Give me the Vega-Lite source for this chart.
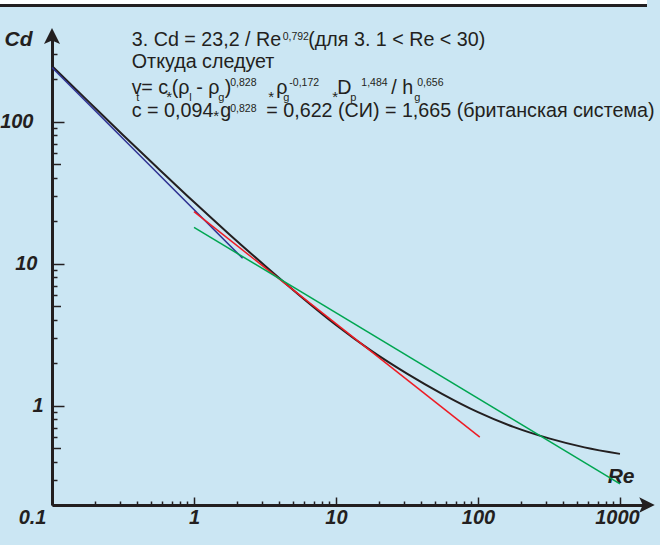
{
  "$schema": "https://vega.github.io/schema/vega-lite/v6.json",
  "width": 595,
  "height": 469,
  "autosize": {"type": "none"},
  "padding": {"left": 52, "top": 36, "right": 13, "bottom": 40},
  "background": "#cbe6f3",
  "config": {"view": {"stroke": null}},
  "datasets": {
    "furniture": [
      {"kind": "paper", "re": 0.042, "re2": 1550, "cd": 716, "cd2": 672},
      {"kind": "border", "re": 0.042, "re2": 1550, "cd": 672, "cd2": 640},
      {"kind": "up", "re": 0.1, "cd": 400},
      {"kind": "right", "re": 1550, "cd": 0.2}
    ],
    "curves": [
      {"series": "black", "re": 0.1, "cd": 246},
      {"series": "black", "re": 0.178, "cd": 140.4},
      {"series": "black", "re": 0.316, "cd": 80.5},
      {"series": "black", "re": 0.562, "cd": 46.6},
      {"series": "black", "re": 1, "cd": 27.1},
      {"series": "black", "re": 1.778, "cd": 16.05},
      {"series": "black", "re": 3.162, "cd": 9.66},
      {"series": "black", "re": 5.623, "cd": 5.9},
      {"series": "black", "re": 10, "cd": 3.7},
      {"series": "black", "re": 17.78, "cd": 2.432},
      {"series": "black", "re": 31.62, "cd": 1.683},
      {"series": "black", "re": 56.23, "cd": 1.208},
      {"series": "black", "re": 100, "cd": 0.901},
      {"series": "black", "re": 177.8, "cd": 0.709},
      {"series": "black", "re": 316.2, "cd": 0.5885},
      {"series": "black", "re": 562.3, "cd": 0.509},
      {"series": "black", "re": 1000, "cd": 0.458},
      {"series": "blue", "re": 0.1, "cd": 240},
      {"series": "blue", "re": 2.2, "cd": 10.9},
      {"series": "red", "re": 1, "cd": 23.2},
      {"series": "red", "re": 103, "cd": 0.6},
      {"series": "green", "re": 1, "cd": 18.0},
      {"series": "green", "re": 1000, "cd": 0.282}
    ],
    "notes": [
      {"t": "3. Cd = 23,2 / Re", "role": "main", "re": 0.3648, "cd": 341.4},
      {"t": "0,792", "role": "sup", "re": 4.21, "cd": 376.3},
      {"t": "(для 3. 1 < Re < 30)", "role": "main", "re": 6.381, "cd": 341.4},
      {"t": "Откуда следует", "role": "main", "re": 0.3648, "cd": 237.7},
      {"t": "v", "role": "main", "re": 0.3648, "cd": 156.0},
      {"t": "t", "role": "sub", "re": 0.3924, "cd": 138.8},
      {"t": "= c", "role": "main", "re": 0.4255, "cd": 156.0},
      {"t": "*", "role": "star", "re": 0.6381, "cd": 137.6},
      {"t": "(ρ", "role": "main", "re": 0.6978, "cd": 156.0},
      {"t": "l", "role": "sub", "re": 0.9267, "cd": 138.8},
      {"t": "- ρ", "role": "main", "re": 1.038, "cd": 156.0},
      {"t": "g", "role": "sub", "re": 1.483, "cd": 138.8},
      {"t": ")", "role": "main", "re": 1.648, "cd": 156.0},
      {"t": "0,828", "role": "sup", "re": 1.801, "cd": 178.4},
      {"t": "*", "role": "star", "re": 3.337, "cd": 137.6},
      {"t": "ρ", "role": "main", "re": 3.798, "cd": 156.0},
      {"t": "g", "role": "sub", "re": 4.256, "cd": 138.8},
      {"t": "-0,172", "role": "sup", "re": 4.69, "cd": 178.4},
      {"t": "*", "role": "star", "re": 9.419, "cd": 137.6},
      {"t": "D", "role": "main", "re": 10.21, "cd": 156.0},
      {"t": "p", "role": "sub", "re": 12.61, "cd": 138.8},
      {"t": "1,484", "role": "sup", "re": 15.08, "cd": 178.4},
      {"t": "/ h", "role": "main", "re": 24.51, "cd": 156.0},
      {"t": "g", "role": "sub", "re": 35.59, "cd": 138.8},
      {"t": "0,656", "role": "sup", "re": 37.36, "cd": 178.4},
      {"t": "c = 0,094", "role": "main", "re": 0.3648, "cd": 107.4},
      {"t": "*", "role": "star", "re": 1.367, "cd": 101.2},
      {"t": "g", "role": "main", "re": 1.532, "cd": 107.4},
      {"t": "0,828", "role": "sup", "re": 1.801, "cd": 117.0},
      {"t": "= 0,622 (СИ) = 1,665 (британская система)", "role": "main", "re": 3.23, "cd": 107.4}
    ]
  },
  "encoding": {
    "x": {
      "field": "re",
      "type": "quantitative",
      "scale": {"type": "log", "domain": [0.1, 1550], "nice": false, "clamp": false},
      "axis": {
        "values": [0.1, 0.2, 0.3, 0.4, 0.5, 0.6, 0.7, 0.8, 0.9, 1, 2, 3, 4, 5, 6, 7, 8, 9, 10, 20, 30, 40, 50, 60, 70, 80, 90, 100, 200, 300, 400, 500, 600, 700, 800, 900, 1000],
        "grid": false,
        "title": "Re",
        "titleFont": "Liberation Sans",
        "titleFontSize": 21,
        "titleFontStyle": "italic",
        "titleFontWeight": "bold",
        "titleColor": "#231f20",
        "titleX": 582,
        "titleY": -23,
        "titleAlign": "right",
        "titleBaseline": "alphabetic",
        "domainColor": "#231f20",
        "domainWidth": 3,
        "tickColor": "#231f20",
        "tickWidth": 1.5,
        "tickSize": {"condition": {"test": "indexof([0.1, 1, 10, 100, 1000], datum.value) >= 0", "value": -8}, "value": -4},
        "labelExpr": "indexof([0.1, 1, 10, 100, 1000], datum.value) >= 0 ? toString(datum.value) : ''",
        "labelFont": "Liberation Sans",
        "labelFontSize": 20,
        "labelFontStyle": "italic",
        "labelFontWeight": "bold",
        "labelColor": "#231f20",
        "labelPadding": 10.5,
        "labelOverlap": false,
        "labelFlush": false,
        "labelBound": false,
        "labelAlign": {"condition": {"test": "datum.value < 0.15", "value": "right"}, "value": "center"},
        "labelOffset": {"condition": [{"test": "datum.value < 0.15", "value": -6}, {"test": "datum.value > 500", "value": -3}], "value": 0}
      }
    },
    "y": {
      "field": "cd",
      "type": "quantitative",
      "scale": {"type": "log", "domain": [0.2, 400], "nice": false, "clamp": false},
      "axis": {
        "values": [0.2, 0.3, 0.4, 0.5, 0.6, 0.7, 0.8, 0.9, 1, 2, 3, 4, 5, 6, 7, 8, 9, 10, 20, 30, 40, 50, 60, 70, 80, 90, 100, 200, 300],
        "grid": false,
        "title": "Cd",
        "titleAngle": 0,
        "titleFont": "Liberation Sans",
        "titleFontSize": 21,
        "titleFontStyle": "italic",
        "titleFontWeight": "bold",
        "titleColor": "#231f20",
        "titleX": -20,
        "titleY": 9,
        "titleAlign": "right",
        "titleBaseline": "alphabetic",
        "domainColor": "#231f20",
        "domainWidth": 3,
        "tickColor": "#231f20",
        "tickWidth": 1.5,
        "tickSize": {"condition": [{"test": "indexof([1, 10, 100], datum.value) >= 0", "value": -12}, {"test": "indexof([0.5, 5, 50], datum.value) >= 0", "value": -8.5}], "value": -5},
        "labelExpr": "indexof([1, 10, 100], datum.value) >= 0 ? toString(datum.value) : ''",
        "labelFont": "Liberation Sans",
        "labelFontSize": 20,
        "labelFontStyle": "italic",
        "labelFontWeight": "bold",
        "labelColor": "#231f20",
        "labelPadding": {"condition": [{"test": "datum.value == 100", "value": 31}, {"test": "datum.value == 10", "value": 27}], "value": 21},
        "labelOverlap": false,
        "labelFlush": false,
        "labelBound": false
      }
    }
  },
  "layer": [
    {
      "data": {"name": "furniture"},
      "transform": [{"filter": "datum.kind == 'paper'"}],
      "mark": {"type": "rect", "color": "#ffffff", "opacity": 1, "clip": false},
      "encoding": {"x2": {"field": "re2"}, "y2": {"field": "cd2"}}
    },
    {
      "data": {"name": "furniture"},
      "transform": [{"filter": "datum.kind == 'border'"}],
      "mark": {"type": "rect", "color": "#231f20", "opacity": 1, "clip": false},
      "encoding": {"x2": {"field": "re2"}, "y2": {"field": "cd2"}}
    },
    {
      "data": {"name": "curves"},
      "transform": [{"filter": "datum.series == 'black'"}],
      "mark": {"type": "line", "color": "#231f20", "strokeWidth": 2, "interpolate": "monotone"},
      "encoding": {}
    },
    {
      "data": {"name": "curves"},
      "transform": [{"filter": "datum.series != 'black'"}],
      "mark": {"type": "line", "strokeWidth": 1.5},
      "encoding": {
        "color": {"field": "series", "type": "nominal", "scale": {"domain": ["blue", "red", "green"], "range": ["#2e3192", "#ed1c24", "#00a651"]}, "legend": null}
      }
    },
    {
      "data": {"name": "notes"},
      "transform": [{"filter": "datum.role == 'main'"}],
      "mark": {"type": "text", "align": "left", "baseline": "alphabetic", "font": "Liberation Sans", "fontSize": 19.7, "color": "#231f20"},
      "encoding": {"text": {"field": "t"}}
    },
    {
      "data": {"name": "notes"},
      "transform": [{"filter": "datum.role == 'sup'"}],
      "mark": {"type": "text", "align": "left", "baseline": "alphabetic", "font": "Liberation Sans", "fontSize": 10.5, "color": "#231f20"},
      "encoding": {"text": {"field": "t"}}
    },
    {
      "data": {"name": "notes"},
      "transform": [{"filter": "datum.role == 'sub'"}],
      "mark": {"type": "text", "align": "left", "baseline": "alphabetic", "font": "Liberation Sans", "fontSize": 11, "color": "#231f20"},
      "encoding": {"text": {"field": "t"}}
    },
    {
      "data": {"name": "notes"},
      "transform": [{"filter": "datum.role == 'star'"}],
      "mark": {"type": "text", "align": "left", "baseline": "alphabetic", "font": "Liberation Sans", "fontSize": 15, "color": "#231f20"},
      "encoding": {"text": {"field": "t"}}
    },
    {
      "data": {"name": "furniture"},
      "transform": [{"filter": "datum.kind == 'up'"}],
      "mark": {"type": "point", "shape": "M0,-1L1,1L0,0.55L-1,1Z", "size": 256, "filled": true, "color": "#231f20", "opacity": 1, "strokeWidth": 0}
    },
    {
      "data": {"name": "furniture"},
      "transform": [{"filter": "datum.kind == 'right'"}],
      "mark": {"type": "point", "shape": "M1,0L-1,-1L-0.55,0L-1,1Z", "size": 240, "filled": true, "color": "#231f20", "opacity": 1, "strokeWidth": 0}
    }
  ]
}
